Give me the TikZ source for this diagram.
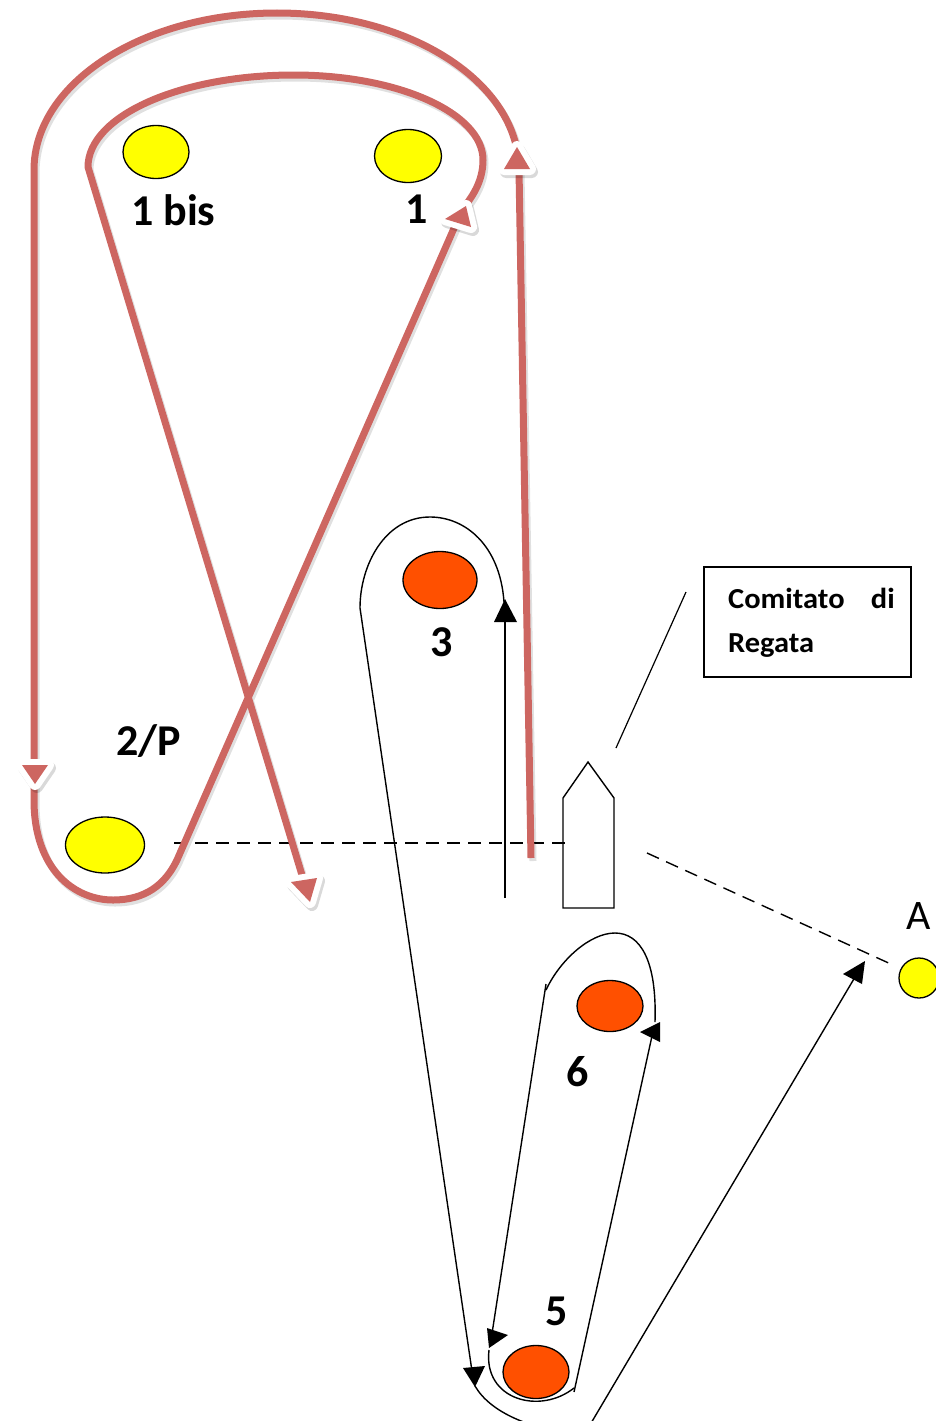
\documentclass[tikz,border=0pt]{standalone}
\usepackage{fontspec}
\setmainfont{Carlito}
\usetikzlibrary{shapes.geometric}
\definecolor{rc}{RGB}{205,102,97}
\definecolor{ylw}{RGB}{255,255,0}
\definecolor{orng}{RGB}{255,80,0}
\tikzset{
  redroute/.style={draw=rc, line width=7pt, line join=round},
  redshadow/.style={draw=black, opacity=0.12, line width=7pt, line join=round},
  blk/.style={draw=black, line width=1.4pt},
  dashline/.style={draw=black, line width=1.4pt, dash pattern=on 13pt off 8pt},
  markbase/.style={ellipse, draw=black, line width=1.3pt, inner sep=0pt},
  ymark/.style={markbase, fill=ylw},
  omark/.style={markbase, fill=orng},
  lbl/.style={font=\bfseries\fontsize{44}{44}\selectfont, inner sep=0pt, anchor=base west},
  boxtxt/.style={font=\bfseries\fontsize{29}{29}\selectfont, inner sep=0pt},
}
\newcommand\redtip[3]{%
  \filldraw[black, opacity=0.15, line width=12pt, line join=round, shift={(2,3)}] #1 -- #2 -- #3 -- cycle;
  \filldraw[white, line width=12pt, line join=round] #1 -- #2 -- #3 -- cycle;
  \fill[rc] #1 -- #2 -- #3 -- cycle;}
\newcommand\blktip[3]{\fill[black] #1 -- #2 -- #3 -- cycle;}
\begin{document}
\begin{tikzpicture}[x=1pt,y=-1pt]
\useasboundingbox (0,0) rectangle (936,1421);
\clip (0,0) rectangle (936,1421);

% ---------- marks ----------
\node[ymark, minimum width=66, minimum height=53] (m1bis) at (156,152) {};
\node[ymark, minimum width=67, minimum height=53] (m1) at (408,156) {};
\node[ymark, minimum width=79, minimum height=56] (m2) at (105,845) {};
\node[ymark, minimum width=40, minimum height=40] (mA) at (919,978) {};
\node[omark, minimum width=74, minimum height=57] (m3) at (440,580) {};
\node[omark, minimum width=66, minimum height=51] (m6) at (610,1006) {};
\node[omark, minimum width=66, minimum height=53] (m5) at (536,1372) {};

% ---------- labels ----------
\node[lbl] (l1bis) at (131,225) {1 bis};
\node[lbl] (l1) at (405,223) {1};
\node[lbl] (l2) at (116,755) {2/P};
\node[lbl] (l3) at (430,656) {3};
\node[lbl] (l6) at (566,1086) {6};
\node[lbl] (l5) at (545,1325) {5};
\node[lbl, font=\fontsize{42}{42}\selectfont] (lA) at (906,929) {A};

% ---------- committee boat ----------
\coordinate (bt) at (588,762);
\draw[blk, line join=miter] (563,908) -- (563,798) -- (bt) -- (614,798) -- (614,908) -- cycle;
\node[draw=black, line width=1.4pt, minimum width=207, minimum height=110, inner sep=0pt] (cbox) at (807.5,622) {};
\node[boxtxt, anchor=base west] (c1) at (728,608) {\scalebox{1.05}[1]{Comitato}};
\node[boxtxt, anchor=base east] (c2) at (895,608) {\scalebox{1.05}[1]{di}};
\node[boxtxt, anchor=base west] (c3) at (728,652) {\scalebox{1.05}[1]{Regata}};
\coordinate (pole1) at (616,748);
\coordinate (pole2) at (686,592);
\draw[blk, line width=1.2pt] (pole1) -- (pole2);

% ---------- start line and finish line ----------
\coordinate (s1) at (174,843);
\coordinate (s2) at (567,843);
\draw[dashline] (s1) -- (s2);
\coordinate (f1) at (647,853);
\coordinate (f2) at (893,965);
\draw[dashline] (f1) -- (f2);

% ---------- red route ----------
\def\redpath{(531,858) -- (519,170) .. controls (519,83) and (411,13) .. (277,13)
  .. controls (143,13) and (34,83) .. (34,170) -- (34,800)
  .. controls (34,870) and (75,900) .. (113,900)
  .. controls (145,900) and (165,885) .. (177,860) -- (462,210)
  .. controls (472,197) and (483,182) .. (483,160)
  .. controls (483,113) and (398,75) .. (294,75)
  .. controls (180,75) and (88,116) .. (88,167) -- (305,885)}
\draw[redshadow, shift={(2,3)}] \redpath;
\draw[redroute] \redpath;
\redtip{(517,147)}{(504,169)}{(530,169)}
\redtip{(445,219)}{(466,206)}{(471,227)}
\redtip{(22,765)}{(48,765)}{(35,784)}
\redtip{(291,882)}{(317,878)}{(310,902)}

% ---------- black route ----------
\coordinate (b0) at (505,898);
\coordinate (b1) at (505,612);
\draw[blk] (b0) -- (b1);
\blktip{(505,599)}{(494,622)}{(517,622)}
\draw[blk] (504,602) .. controls (500,545) and (465,517) .. (430,517)
  .. controls (385,517) and (360,565) .. (360,608) -- (473,1378);
\blktip{(463,1368)}{(485,1366)}{(475,1387)}
\draw[blk] (475,1386) .. controls (490,1412) and (530,1430) .. (584,1435) -- (858,972);
\blktip{(865,961)}{(843,974)}{(862,984)}
% inner loop around 5 and 6
\draw[blk] (574,1392) -- (652,1036);
\blktip{(640,1032)}{(660,1022)}{(660,1042)}
\draw[blk] (655,1022) .. controls (657,960) and (640,933) .. (615,933)
  .. controls (590,933) and (560,960) .. (546,990);
\draw[blk] (546,984) -- (491,1340);
\blktip{(487,1328)}{(508,1335)}{(489,1348)}
\draw[blk] (489,1350) .. controls (483,1400) and (540,1415) .. (574,1388);
\end{tikzpicture}
\end{document}
